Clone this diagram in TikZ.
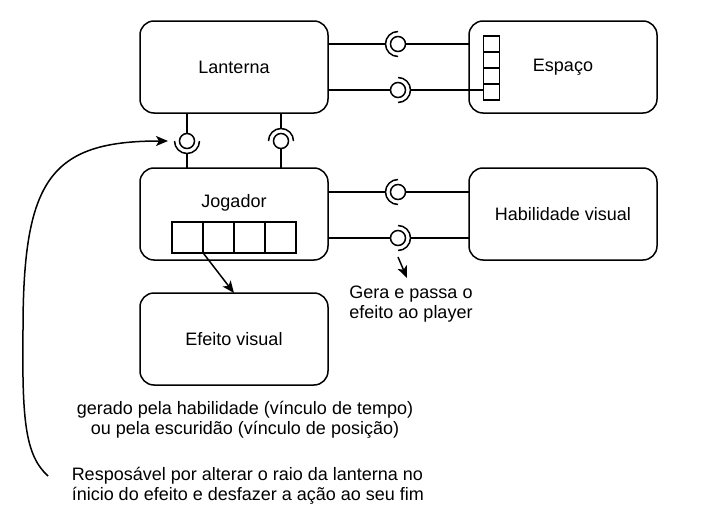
\documentclass[tikz,border=0pt]{standalone}
\usepackage{fontspec}
\setmainfont{Liberation Sans}
\usepackage{tikz}
\tikzstyle{connector} = [line width=1.5pt]
\tikzstyle{pointer} = [-{Stealth[length=12pt,width=10pt,inset=3pt]}]
\newcommand{\sockradius}{12.5pt}
\newcommand{\socketarc}[2]{\draw[connector] (#1) ++(#2:\sockradius) arc[start angle=#2, delta angle=180, radius=\sockradius];}
\usetikzlibrary{arrows.meta}
\usetikzlibrary{positioning}

\begin{document}
\begin{tikzpicture}[x=1pt,y=1pt,node distance=55pt and 141pt,line width=1.5pt,
      main node/.style={draw,rounded corners=14pt,minimum width=188pt,minimum height=92pt,inner sep=0pt,outer sep=0pt,font=\fontsize{18pt}{19.5pt}\selectfont},
      text node/.style={inner sep=0pt,font=\fontsize{18pt}{19.5pt}\selectfont},
      ball node/.style={circle,draw,minimum size=15pt,inner sep=0pt},
      port node/.style={draw,inner sep=0pt,fill=white}]

      \useasboundingbox (0,0) rectangle (724,-522);

      \node[main node] (L) at (234,-67) {Lanterna};
      \node[main node] (E) [right=of L] {Espaço};
      \node[main node] (J) [below=of L] {};
      \node[main node] (H) [right=of J] {Habilidade visual};
      \node[main node] (V) [below=33pt of J] {Efeito visual};
      \node[text node] (JL) at ([yshift=-35pt]J.north) {Jogador};

      \foreach \i in {1,...,4}{\node[port node,minimum size=16pt] (EP\i) at (491.5,-28-16*\i) {};}
      \foreach \i in {1,...,4}{\node[port node,minimum size=31pt] (JP\i) at (156.5+31*\i,-237.5) {};}

      \node[ball node] (B1) at (398,-44) {};
      \node[ball node] (B2) at (398,-90) {};
      \node[ball node] (B3) at (398,-192) {};
      \node[ball node] (B4) at (398,-238) {};
      \node[ball node] (B5) at (187,-141) {};
      \node[ball node] (B6) at (281,-141) {};

      \socketarc{B1.center}{90}
      \socketarc{B2.center}{-90}
      \socketarc{B3.center}{90}
      \socketarc{B4.center}{-90}
      \socketarc{B5.center}{180}
      \socketarc{B6.center}{0}

      \coordinate (S1) at ([xshift=-\sockradius]B1.center);
      \coordinate (S2) at ([xshift=\sockradius]B2.center);
      \coordinate (S3) at ([xshift=-\sockradius]B3.center);
      \coordinate (S4) at ([xshift=\sockradius]B4.center);
      \coordinate (S5) at ([yshift=-\sockradius]B5.center);
      \coordinate (S6) at ([yshift=\sockradius]B6.center);

      \node[text node,align=center] (G) at (411,-304) {Gera e passa o\\efeito ao player};
      \node[text node,align=center] (N1) at (245,-420) {gerado pela habilidade (vínculo de tempo)\\ou pela escuridão (vínculo de posição)};
      \node[text node,align=left,anchor=west] (N2) at (71,-486) {Resposável por alterar o raio da lanterna no\\ínicio do efeito e desfazer a ação ao seu fim};

      \coordinate (C0) at (48,-476);
      \coordinate (T) at ([xshift=-19pt]B5.center);
      \coordinate (G0) at ([yshift=-19pt]B4.center);
      \coordinate (G1) at ([shift={(9pt,-40pt)}]B4.center);

      \path[connector]
      (L.east |- S1) edge (S1)
      (B1) edge (E.west |- B1)
      (L.east |- B2) edge (B2)
      (S2) edge (EP4.west |- S2)
      (J.east |- S3) edge (S3)
      (B3) edge (H.west |- B3)
      (J.east |- B4) edge (B4)
      (S4) edge (H.west |- S4)
      (L.south -| B5) edge (B5)
      (S5) edge (J.north -| S5)
      (L.south -| S6) edge (S6)
      (B6) edge (J.north -| B6);

      \draw[pointer] (JP1.south east) -- (V.north);
      \draw[pointer] (G0) -- (G1);
      \draw[pointer] (C0) .. controls (25,-455) and (22,-420) .. (23,-330) .. controls (23,-180) and (50,-141) .. (T);
    \end{tikzpicture}
\end{document}
